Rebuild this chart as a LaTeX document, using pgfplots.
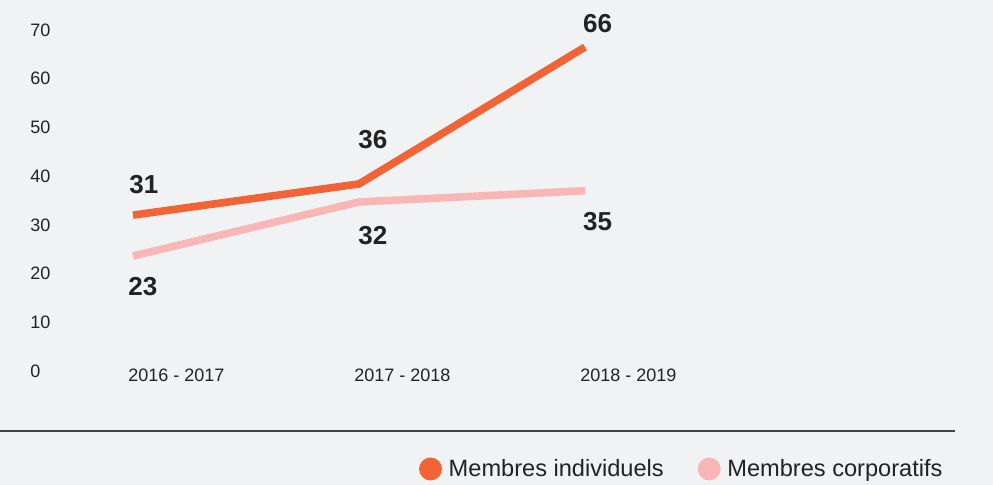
\documentclass[border=0pt]{standalone}
\usepackage{pgfplots}
\pgfplotsset{compat=1.18}
\usepackage{fontspec}
\setmainfont{Liberation Sans}
\definecolor{bg}{HTML}{F1F2F4}
\definecolor{indiv}{HTML}{F26435}
\definecolor{corpo}{HTML}{F8B6B6}
\definecolor{txt}{HTML}{222222}
\begin{document}
\begin{tikzpicture}
\fill[bg] (-66.5pt,-57pt) rectangle (430pt,185.5pt);
\useasboundingbox (-66.5pt,-57pt) rectangle (430pt,185.5pt);
\draw[txt!85, line width=0.7pt] (-66.5pt,-30pt) -- (411pt,-30pt);
\begin{axis}[
at={(0,0)},anchor=south west,
scale only axis,width=226pt,height=170.5pt,
xmin=0,xmax=2,ymin=0,ymax=70,
axis line style={draw=none},
major tick length=0pt,
xtick={0,1,2},xticklabels={2016 - 2017,2017 - 2018,2018 - 2019},
ytick={0,10,...,70},
tick label style={font=\fontsize{9}{10}\selectfont,text=txt,inner sep=0pt},
xticklabel style={anchor=west,xshift=-2.5pt,yshift=-2pt},
yticklabel style={anchor=west,xshift=-51.5pt},
/pgf/number format/assume math mode=true,
clip=false,
legend columns=2,
legend image code/.code={\fill (3.8pt,0pt) circle (3.8pt); \path (0pt,0pt) -- (9pt,0pt);},
legend style={draw=none,fill=none,at={(1.814,-0.2874)},anchor=east,
  font=\fontsize{11.8}{13}\selectfont,text=txt,
  /tikz/every even column/.append style={column sep=15pt}},
]
\addplot[color=indiv,line width=3.8pt,line cap=butt,line join=round] coordinates {(0,32.0)(1,38.4)(2,66.5)};
\addplot[color=corpo,line width=3.8pt,line cap=butt,line join=round] coordinates {(0,23.6)(1,34.7)(2,37.0)};
\legend{Membres individuels,Membres corporatifs}
\tikzset{lab/.style={anchor=west,inner sep=0pt,text=txt,font=\bfseries\fontsize{13}{15}\selectfont}}
\node[lab] at (axis cs:-0.018,38.2) {31};
\node[lab] at (axis cs:0.996,47.6) {36};
\node[lab] at (axis cs:1.99,71.4) {66};
\node[lab] at (axis cs:-0.022,17.3) {23};
\node[lab] at (axis cs:0.996,27.9) {32};
\node[lab] at (axis cs:1.99,30.6) {35};
\end{axis}
\end{tikzpicture}
\end{document}
